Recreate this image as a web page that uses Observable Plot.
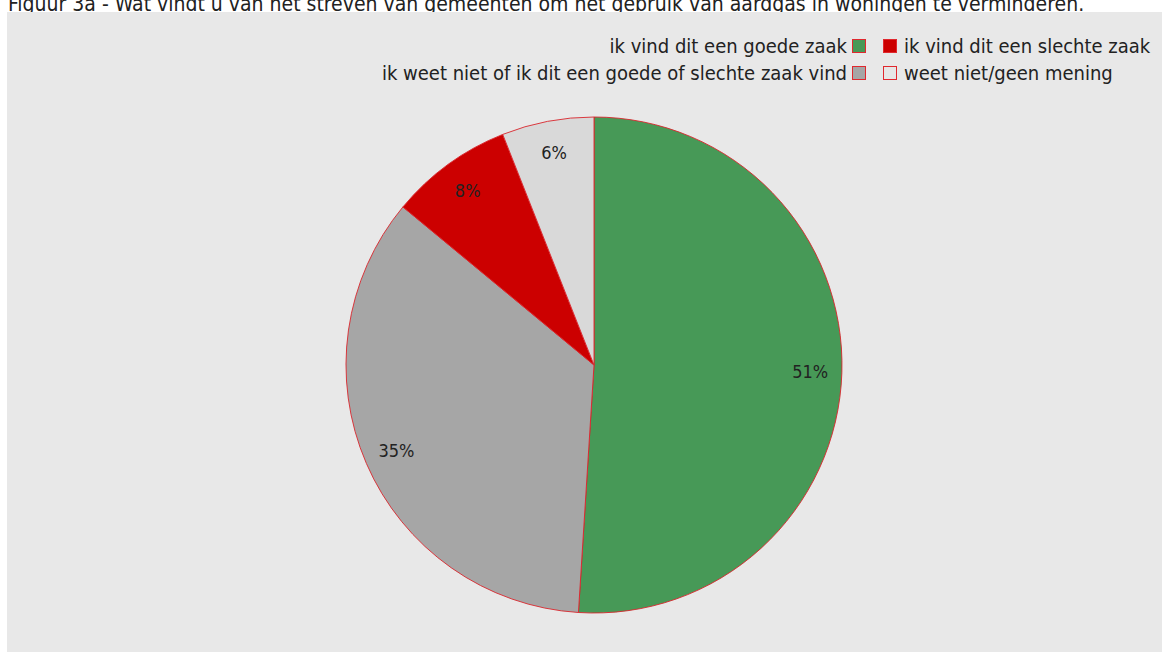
<!DOCTYPE html>
<html>
<head>
<meta charset="utf-8">
<script src="https://cdn.jsdelivr.net/npm/d3@7"></script>
<script src="https://cdn.jsdelivr.net/npm/@observablehq/plot@0.6"></script>
<style>
  html, body { margin: 0; padding: 0; background: #ffffff; width: 1168px; height: 652px; overflow: hidden; }
  body { position: relative; font-family: "DejaVu Sans Condensed", "DejaVu Sans", sans-serif; color: #222; }
  #title { position: absolute; left: 8px; top: -6px; font-size: 21px; white-space: nowrap; line-height: 21px; }
  #panel { position: absolute; left: 7px; top: 12px; width: 1155px; height: 640px; background: #e8e8e8; }
  #chart { position: absolute; left: 0; top: 0; }
  .leg { position: absolute; font-size: 20px; white-space: nowrap; line-height: 20px; display: flex; align-items: center; }
  .sw { display: inline-block; width: 12px; height: 12px; border: 1px solid #e0282e; box-sizing: content-box; }
</style>
</head>
<body>
<div id="title">Figuur 3a - Wat vindt u van het streven van gemeenten om het gebruik van aardgas in woningen te verminderen.</div>
<div id="panel">
  <div id="chart"></div>
  <div id="legend"></div>
</div>
<script>
const categories = [
  "ik vind dit een goede zaak",
  "ik weet niet of ik dit een goede of slechte zaak vind",
  "ik vind dit een slechte zaak",
  "weet niet/geen mening"
];
const values = [51, 35, 8, 6];
const valueLabels = ["51%", "35%", "8%", "6%"];
const colors = ["#479957", "#a6a6a6", "#cc0000", "#d9d9d9"];

const data = categories.map((c, i) => ({category: c, value: values[i], label: valueLabels[i], color: colors[i]}));
const arcs = d3.pie().sort(null).value(d => d.value)(data);
const labelRadius = 0.87;
const labelData = arcs.map(a => {
  const m = (a.startAngle + a.endAngle) / 2;
  return {x: labelRadius * Math.sin(m), y: labelRadius * Math.cos(m), label: a.data.label};
});

const W = 1155, H = 640;
const cx = 587, cy = 353, R = 248;

const pieMark = (index, scales) => {
  const {x, y} = scales;
  const r = x(1) - x(0);
  const g = d3.create("svg:g").attr("transform", `translate(${x(0)},${y(0)})`);
  const arcGen = d3.arc().innerRadius(0).outerRadius(r);
  g.selectAll("path").data(arcs).join("path")
    .attr("d", arcGen)
    .attr("fill", d => d.data.color)
    .attr("stroke", "#d9262c")
    .attr("stroke-width", 0.9)
    .attr("stroke-linejoin", "round");
  return g.node();
};

const plot = Plot.plot({
  width: W,
  height: H,
  margin: 0,
  style: {background: "transparent", fontFamily: "DejaVu Sans Condensed, DejaVu Sans, sans-serif"},
  x: {domain: [-1, 1], range: [cx - R, cx + R], axis: null},
  y: {domain: [-1, 1], range: [cy + R, cy - R], axis: null},
  marks: [
    pieMark,
    Plot.text(labelData, {x: "x", y: "y", text: "label", fontSize: 18, fill: "#222"})
  ]
});
document.getElementById("chart").appendChild(plot);

// legend: two columns meeting at a fixed x
const legend = document.getElementById("legend");
const colSplit = 875 - 7;
const rowTops = [24, 51];
const layout = [[0, 0, "left"], [2, 0, "right"], [1, 1, "left"], [3, 1, "right"]];
layout.forEach(([i, row, side]) => {
  const el = document.createElement("div");
  el.className = "leg";
  const sw = document.createElement("span");
  sw.className = "sw";
  sw.style.background = data[i].color === "#d9d9d9" ? "#e6e6e6" : data[i].color;
  const tx = document.createElement("span");
  tx.textContent = data[i].category;
  el.style.top = rowTops[row] + "px";
  if (side === "left") {
    tx.style.marginRight = "5px";
    el.appendChild(tx); el.appendChild(sw);
    el.style.right = (1155 - (colSplit - 9)) + "px";
  } else {
    sw.style.marginRight = "7px";
    el.appendChild(sw); el.appendChild(tx);
    el.style.left = (colSplit + 8) + "px";
  }
  legend.appendChild(el);
});
</script>
</body>
</html>
